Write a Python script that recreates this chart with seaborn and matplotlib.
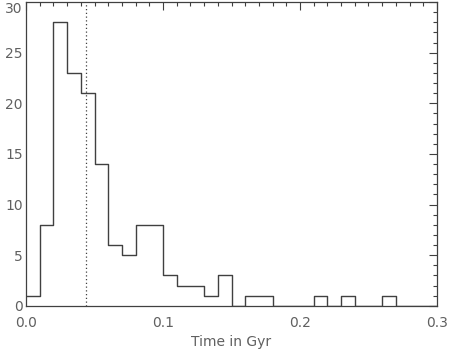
import matplotlib
matplotlib.use("Agg")
import matplotlib.pyplot as plt
from matplotlib.ticker import MultipleLocator
import seaborn as sns
import numpy as np

bin_edges = [round(0.01 * i, 2) for i in range(31)]
counts = [1, 8, 28, 23, 21, 14, 6, 5, 8, 8, 3, 2, 2, 1, 3, 0, 1, 1, 0, 0,
          0, 1, 0, 1, 0, 0, 1, 0, 0, 0]
marker_time = 0.0435

centers = [(bin_edges[i] + bin_edges[i + 1]) / 2 for i in range(len(counts))]

sns.set_style("white")
plt.rcParams['font.family'] = ['DejaVu Sans']

fig = plt.figure(figsize=(4.5, 3.54), dpi=100)
ax = fig.add_axes([0.058, 0.136, 0.913, 0.858])

col = "#404040"
txt = "#606060"
sns.histplot(x=centers, weights=counts, bins=bin_edges, element="step",
             fill=False, color=col, linewidth=1.0, ax=ax)
ax.axvline(marker_time, color=col, linestyle=(0, (1, 2)), linewidth=0.9)

ax.set_xlim(0, 0.3)
ax.set_ylim(0, 30)
ax.xaxis.set_major_locator(MultipleLocator(0.1))
ax.xaxis.set_minor_locator(MultipleLocator(0.01))
ax.yaxis.set_major_locator(MultipleLocator(5))
ax.yaxis.set_minor_locator(MultipleLocator(1))
ax.set_xticklabels([f"{v:.1f}" for v in ax.get_xticks()])
ax.tick_params(which="both", direction="in", top=True, right=True,
               color=col, labelcolor=txt, labelsize=10, width=0.8)
ax.tick_params(which="major", length=6)
ax.tick_params(which="minor", length=3)
ax.tick_params(axis="x", which="major", pad=7)
ax.tick_params(axis="y", which="major", pad=2.5)
for s in ax.spines.values():
    s.set_color(col)
    s.set_linewidth(0.9)
ax.set_ylabel("")
ax.set_xlabel("Time in Gyr", color=txt, fontsize=10, labelpad=4)

fig.canvas.draw()
for t in ax.get_yticklabels():
    if t.get_text() == "30":
        t.set_verticalalignment("top")

fig.savefig("out.png", dpi=100)
